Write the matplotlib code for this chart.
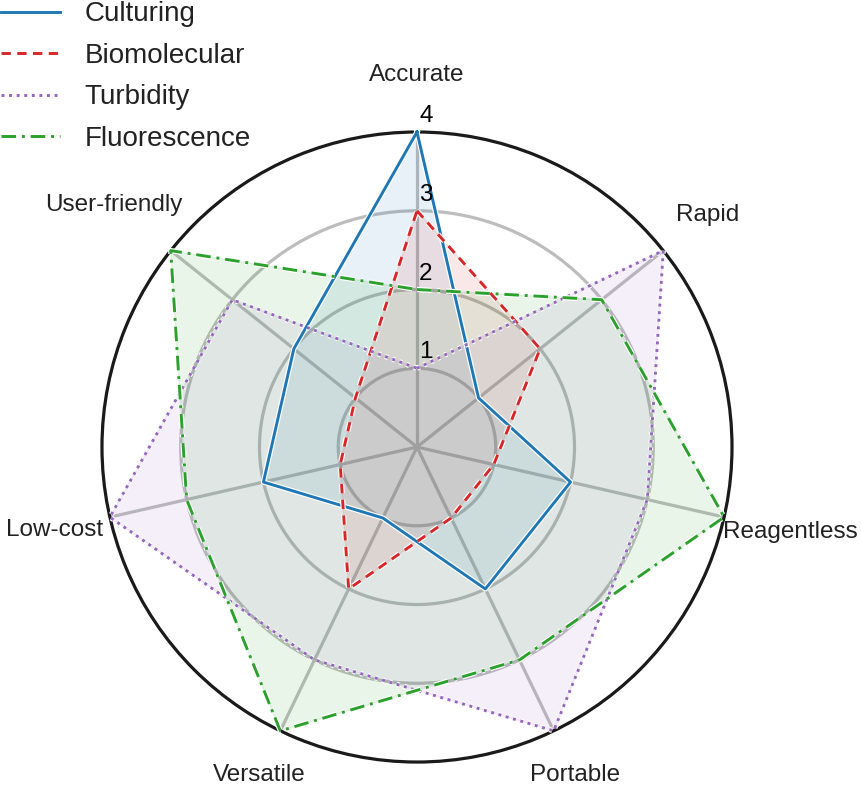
import numpy as np
import matplotlib
matplotlib.use("Agg")
import matplotlib.pyplot as plt
import matplotlib.patheffects as pe

plt.rcParams["font.family"] = ["Liberation Sans", "DejaVu Sans"]

categories = ["Accurate", "Rapid", "Reagentless", "Portable",
              "Versatile", "Low-cost", "User-friendly"]
culturing = [4, 1, 2, 2, 1, 2, 2]
biomolecular = [3, 2, 1, 1, 2, 1, 1]
turbidity = [1, 4, 3, 4, 3, 4, 3]
fluorescence = [2, 3, 4, 3, 4, 3, 4]
series_names = ["Culturing", "Biomolecular", "Turbidity", "Fluorescence"]
rticks = [1, 2, 3, 4]

series = [culturing, biomolecular, turbidity, fluorescence]
colors = ["#1f77b4", "#d62728", "#9467bd", "#2ca02c"]
styles = ["-", (0, (3.2, 2.2)), (0, (1, 1.6)), (0, (5, 2, 1, 2))]

n = len(categories)
angles = np.linspace(0, 2 * np.pi, n, endpoint=False)
closed = np.append(angles, angles[0])

fig = plt.figure(figsize=(8.62, 7.9), dpi=100)
ax = fig.add_axes([0.1183, 0.0354, 0.7309, 0.7975], projection="polar")
ax.set_theta_zero_location("N")
ax.set_theta_direction(-1)
ax.set_ylim(0, 4)

# grid: circles and spokes
ax.set_yticks(rticks[:-1])
ax.set_yticklabels([])
ax.set_xticks(angles)
ax.set_xticklabels([])
ax.tick_params(length=0)
ax.grid(True, color="#bdbdbd", linewidth=2.3)
ax.spines["polar"].set_color("#1a1a1a")
ax.spines["polar"].set_linewidth(2.3)
ax.set_axisbelow(True)

for vals, name, c, ls in zip(series, series_names, colors, styles):
    v = np.append(vals, vals[0])
    ax.fill(closed, v, color=c, alpha=0.1, zorder=2)
    ax.plot(closed, v, color=c, linestyle=ls, linewidth=2.1, label=name,
            zorder=3, clip_on=False,
            path_effects=[pe.Stroke(linewidth=3.8, foreground="white"), pe.Normal()])

# radial tick numbers along the top spoke
for r in rticks:
    ax.annotate(str(r), xy=(0, r), xytext=(1.5, 3.5), textcoords="offset points",
                ha="left", va="bottom", fontsize=17.5, color="black", zorder=5,
                annotation_clip=False)

# category labels
label_r = {"Reagentless": 4.86, "User-friendly": 4.92,
           "Portable": 4.62, "Versatile": 4.62}
for ang, lab in zip(angles, categories):
    ax.text(ang, label_r.get(lab, 4.72), lab, ha="center", va="center",
            fontsize=17.5, color="#222222")

fig.legend(loc="upper left", bbox_to_anchor=(0.0, 1.0), frameon=False,
           fontsize=20, handlelength=2.1, handletextpad=0.9, labelspacing=0.56,
           borderpad=0, borderaxespad=0.05, labelcolor="#222222")

fig.savefig("out.png", dpi=100, facecolor="white")
